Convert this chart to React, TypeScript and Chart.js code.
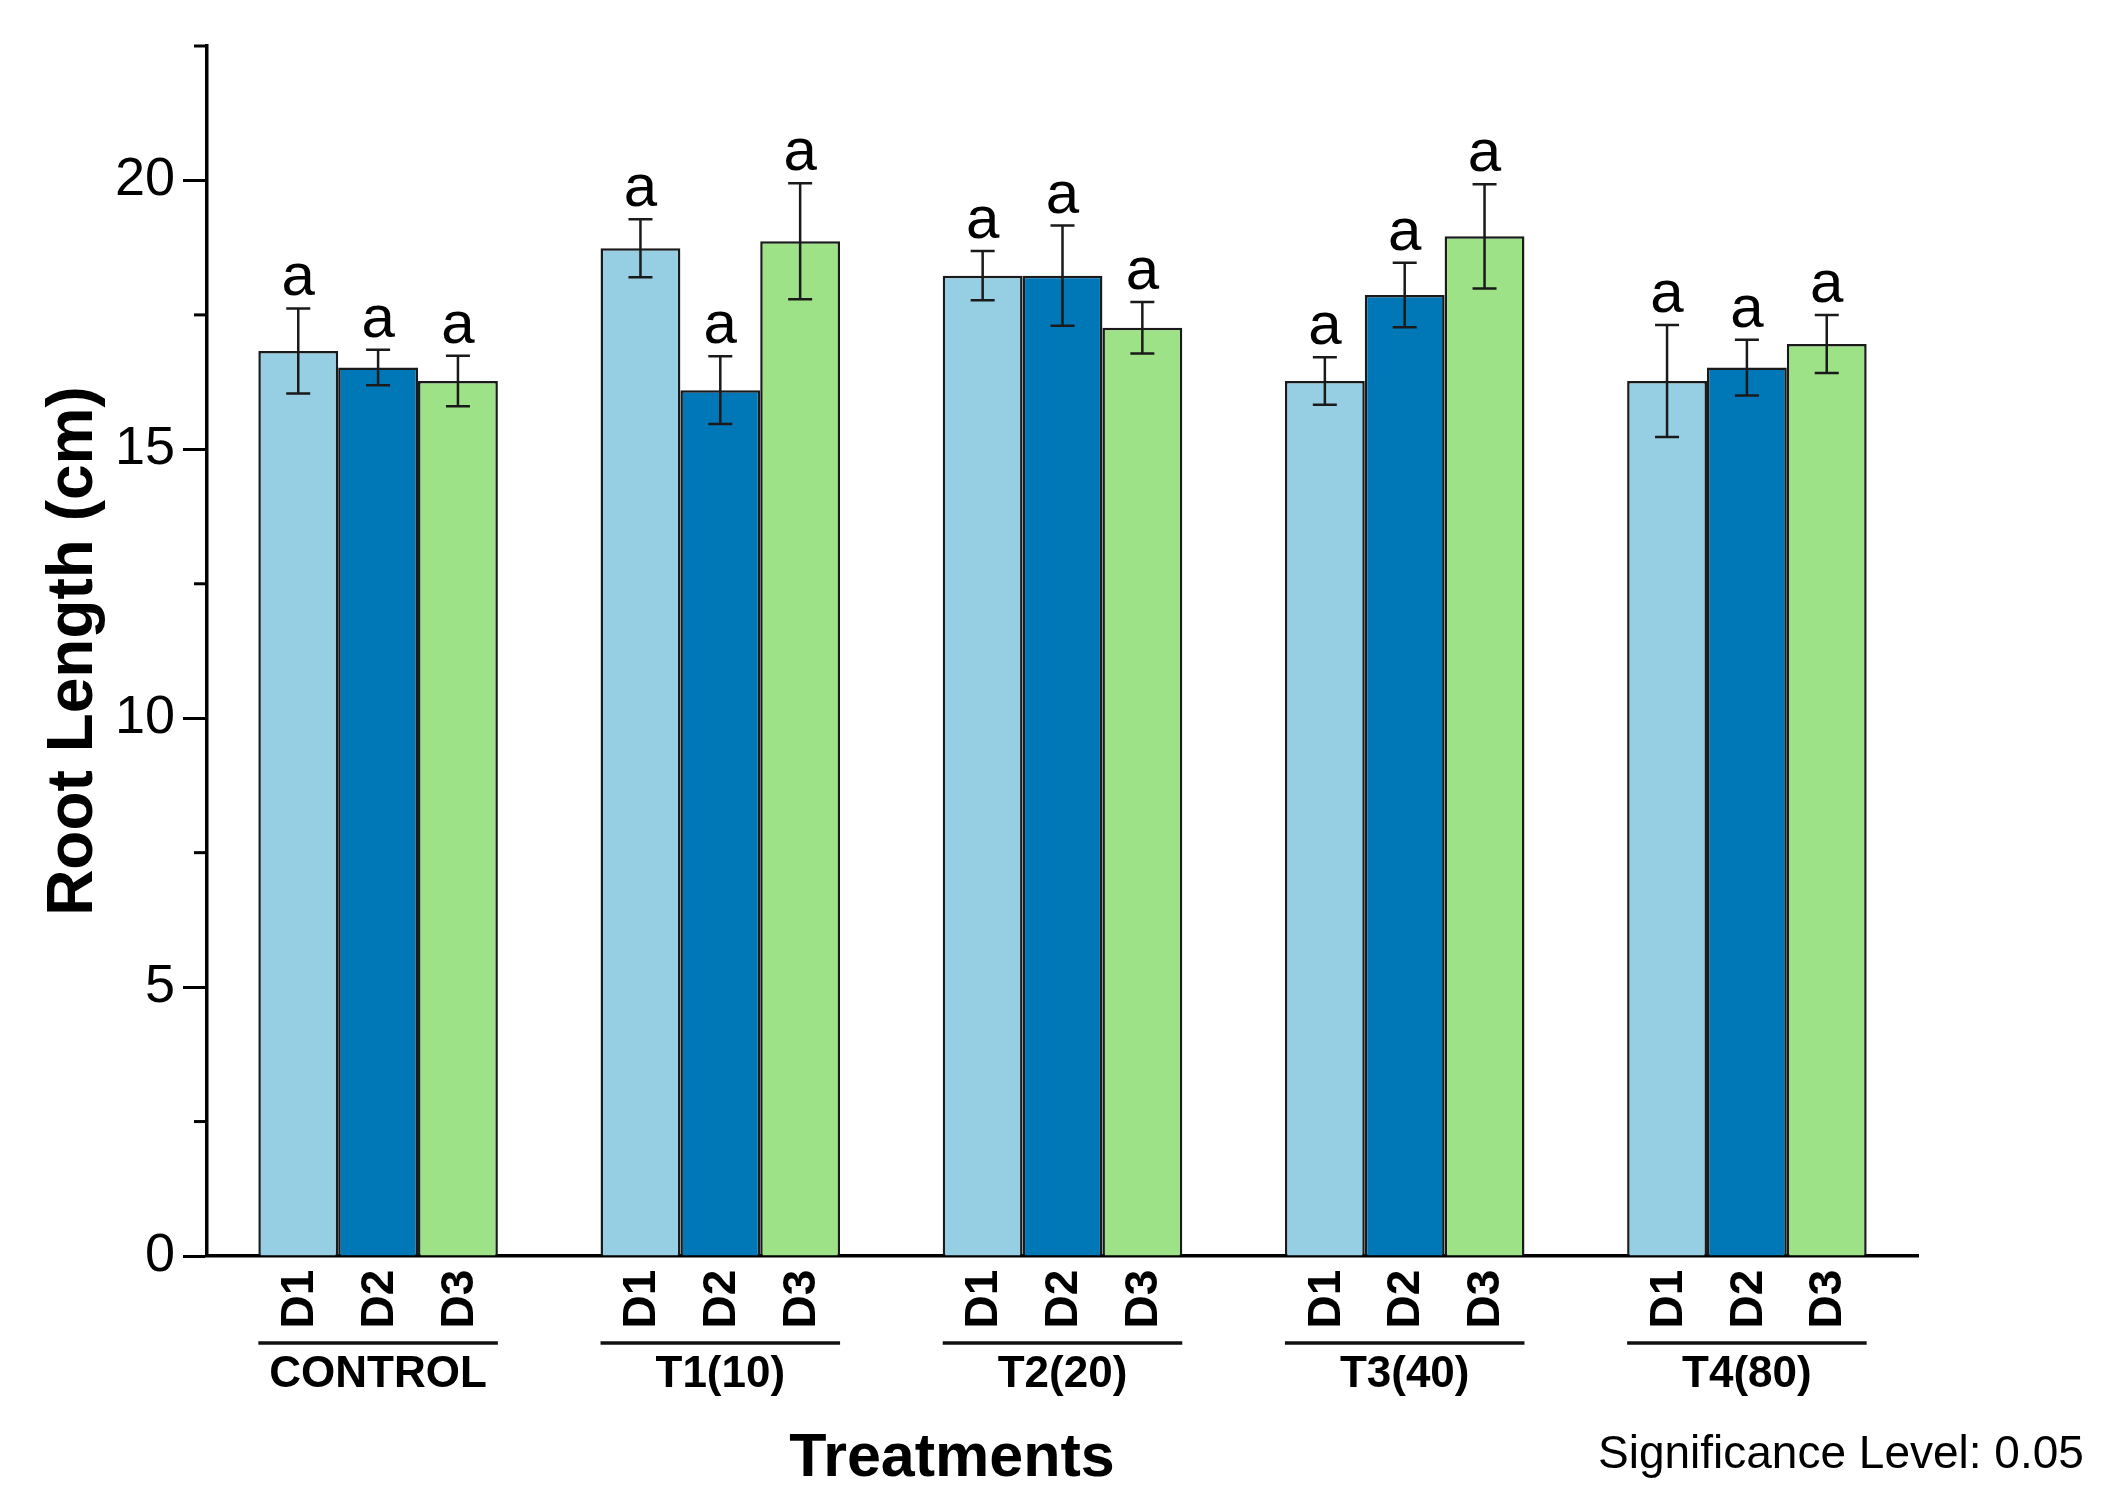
import React, { useEffect, useRef } from "react";
import { Chart, registerables } from "chart.js";

Chart.register(...registerables);

const categories = ["CONTROL", "T1(10)", "T2(20)", "T3(40)", "T4(80)"];
const seriesNames = ["D1", "D2", "D3"];
const d1Values = [16.83, 18.74, 18.23, 16.27, 16.27];
const d2Values = [16.52, 16.1, 18.23, 17.87, 16.52];
const d3Values = [16.27, 18.87, 17.26, 18.96, 16.96];
const d1Errors = [0.79, 0.54, 0.46, 0.44, 1.04];
const d2Errors = [0.33, 0.63, 0.93, 0.6, 0.52];
const d3Errors = [0.47, 1.08, 0.48, 0.97, 0.54];
const d1Letters = ["a", "a", "a", "a", "a"];
const d2Letters = ["a", "a", "a", "a", "a"];
const d3Letters = ["a", "a", "a", "a", "a"];
const yMin = 0;
const yMax = 22.5;
const yStep = 2.5;
const yLabelEvery = 5;
const yTitle = "Root Length (cm)";
const xTitle = "Treatments";
const note = "Significance Level: 0.05";

const seriesColors = ["#96CFE4", "#0078B7", "#9DE287"];
const FONT = "'Liberation Sans', Arial, sans-serif";

export default function App() {
  const ref = useRef<HTMLCanvasElement | null>(null);

  useEffect(() => {
    const canvas = ref.current;
    if (!canvas) return;
    const values = [d1Values, d2Values, d3Values];
    const errors = [d1Errors, d2Errors, d3Errors];
    const letters = [d1Letters, d2Letters, d3Letters];

    const overlay = {
      id: "overlay",
      afterDatasetsDraw(chart: any) {
        const ctx = chart.ctx;
        const y = chart.scales.y;
        ctx.save();
        values.forEach((vals, i) => {
          const meta = chart.getDatasetMeta(i);
          meta.data.forEach((bar: any, j: number) => {
            const v = vals[j];
            const e = errors[i][j];
            const x = bar.x;
            const yt = y.getPixelForValue(v + e);
            const yb = y.getPixelForValue(v - e);
            ctx.strokeStyle = "#1a1a1a";
            ctx.lineWidth = 2.5;
            ctx.beginPath();
            ctx.moveTo(x, yt);
            ctx.lineTo(x, yb);
            ctx.moveTo(x - 12, yt);
            ctx.lineTo(x + 12, yt);
            ctx.moveTo(x - 12, yb);
            ctx.lineTo(x + 12, yb);
            ctx.stroke();
            ctx.fillStyle = "#000";
            ctx.font = `60px ${FONT}`;
            ctx.textAlign = "center";
            ctx.textBaseline = "alphabetic";
            ctx.fillText(letters[i][j], x, yt - 13);
          });
        });
        ctx.restore();
      },
      afterDraw(chart: any) {
        const ctx = chart.ctx;
        const y = chart.scales.y;
        const area = chart.chartArea;
        ctx.save();
        ctx.strokeStyle = "#000";
        ctx.lineWidth = 3;
        for (let v = yMin + yStep; v <= yMax + 1e-9; v += yStep) {
          if (Math.abs(v / yLabelEvery - Math.round(v / yLabelEvery)) < 1e-6) continue;
          const py = y.getPixelForValue(v);
          ctx.beginPath();
          ctx.moveTo(area.left - 13, py);
          ctx.lineTo(area.left, py);
          ctx.stroke();
        }
        const nCat = categories.length;
        for (let j = 0; j < nCat; j++) {
          let left = Infinity;
          let right = -Infinity;
          seriesNames.forEach((name, i) => {
            const bar: any = chart.getDatasetMeta(i).data[j];
            left = Math.min(left, bar.x - bar.width / 2);
            right = Math.max(right, bar.x + bar.width / 2);
            ctx.save();
            ctx.translate(bar.x, 1299);
            ctx.rotate(-Math.PI / 2);
            ctx.fillStyle = "#000";
            ctx.font = `bold 46px ${FONT}`;
            ctx.textAlign = "center";
            ctx.textBaseline = "middle";
            ctx.fillText(name, 0, 2);
            ctx.restore();
          });
          ctx.strokeStyle = "#111";
          ctx.lineWidth = 3.5;
          ctx.beginPath();
          ctx.moveTo(left, 1343);
          ctx.lineTo(right, 1343);
          ctx.stroke();
        }
        ctx.fillStyle = "#000";
        ctx.font = `bold 61px ${FONT}`;
        ctx.textAlign = "center";
        ctx.textBaseline = "middle";
        ctx.fillText(xTitle, 952, 1459);
        ctx.font = `46px ${FONT}`;
        ctx.textAlign = "left";
        ctx.fillText(note, 1598, 1455);
        ctx.restore();
      },
    };

    const chart = new Chart(canvas, {
      type: "bar",
      data: {
        labels: categories,
        datasets: seriesNames.map((name, i) => ({
          label: name,
          data: values[i],
          backgroundColor: seriesColors[i],
          borderColor: "#1a1a1a",
          borderWidth: 2.5,
          borderSkipped: "bottom",
          categoryPercentage: 0.7,
          barPercentage: 1.0,
        })),
      },
      options: {
        responsive: false,
        devicePixelRatio: 1,
        animation: false,
        layout: { padding: { left: 0, top: 46, right: 187, bottom: 0 } },
        plugins: {
          legend: { display: false },
          tooltip: { enabled: false },
          title: { display: false },
        },
        scales: {
          x: {
            type: "category",
            offset: true,
            grid: { display: false, drawTicks: false },
            border: { display: true, color: "#000", width: 3.5 },
            ticks: {
              color: "#000",
              font: { family: FONT, size: 44, weight: "bold" },
              padding: 92,
              maxRotation: 0,
              minRotation: 0,
              autoSkip: false,
            },
            afterFit(scale: any) {
              scale.height = 1511 - 1256;
            },
          },
          y: {
            min: yMin,
            max: yMax,
            grid: {
              display: true,
              drawOnChartArea: false,
              drawTicks: true,
              tickLength: 24,
              tickWidth: 3,
              tickColor: (c: any) => {
                const v = c.tick ? c.tick.value : 0;
                return Math.abs(v / yLabelEvery - Math.round(v / yLabelEvery)) < 1e-6 ? "#000" : "rgba(0,0,0,0)";
              },
            },
            border: { display: true, color: "#000", width: 3.5 },
            ticks: {
              stepSize: yStep,
              color: "#000",
              padding: 8,
              font: { family: FONT, size: 54 },
              callback: (v: any) => {
                const n = Number(v);
                return Math.abs(n / yLabelEvery - Math.round(n / yLabelEvery)) < 1e-6 ? String(n) : "";
              },
            },
            title: {
              display: true,
              text: yTitle,
              color: "#000",
              font: { family: FONT, size: 64, weight: "bold", lineHeight: 1 },
              padding: { top: 42, bottom: 0 },
            },
            afterFit(scale: any) {
              scale.width = 207;
            },
          },
        },
      },
      plugins: [overlay],
    } as any);

    return () => chart.destroy();
  }, []);

  return (
    <div style={{ position: "fixed", left: 0, top: 0, width: 2105, height: 1511, background: "#fff" }}>
      <canvas ref={ref} width={2105} height={1511} style={{ display: "block", width: 2105, height: 1511 }} />
    </div>
  );
}
